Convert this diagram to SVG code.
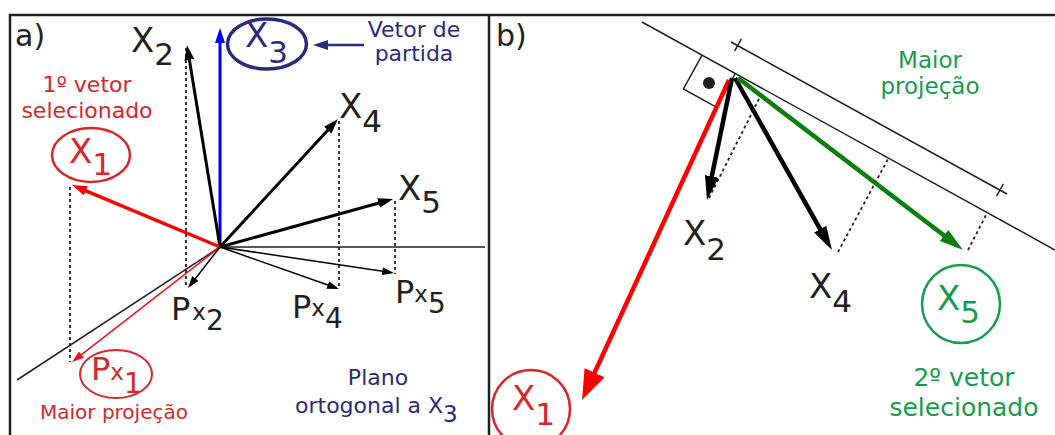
<svg xmlns="http://www.w3.org/2000/svg" width="1055" height="435" viewBox="0 0 1055 435">
<style>
text{font-family:"DejaVu Sans","Liberation Sans",sans-serif}
.frame{stroke:#231f20;stroke-width:2.5;fill:none}
.ax{stroke:#231f20;stroke-width:1.5;fill:none}
.dot{stroke:#231f20;stroke-width:1.8;stroke-dasharray:3 3;fill:none}
.vk{stroke:#000;stroke-width:3;fill:none}
.vkb{stroke:#000;stroke-width:4.5;fill:none}
.thin{stroke:#000;stroke-width:1.5;fill:none}
.big{font-size:34px;fill:#231f20}
.sub{font-size:31px}
.pP{font-size:32px;fill:#231f20}
.px{font-size:23px}
.pd{font-size:28px}
.red{fill:#d4282a}
.navy{fill:#2b2a7c}
.green{fill:#169c4c}
</style>
<defs>
<marker id="mK" markerUnits="userSpaceOnUse" markerWidth="15" markerHeight="10" refX="5" refY="5" orient="auto"><path d="M0,0 L15,5 L0,10 z" fill="#000"/></marker>
<marker id="mB" markerUnits="userSpaceOnUse" markerWidth="15" markerHeight="10" refX="5" refY="5" orient="auto"><path d="M0,0 L15,5 L0,10 z" fill="#0000ff"/></marker>
<marker id="mR" markerUnits="userSpaceOnUse" markerWidth="15" markerHeight="10" refX="5" refY="5" orient="auto"><path d="M0,0 L15,5 L0,10 z" fill="#ff0000"/></marker>
<marker id="mN" markerUnits="userSpaceOnUse" markerWidth="15" markerHeight="10" refX="5" refY="5" orient="auto"><path d="M0,0 L15,5 L0,10 z" fill="#2b2a7c"/></marker>
<marker id="mKt" markerUnits="userSpaceOnUse" markerWidth="12" markerHeight="8" refX="4" refY="4" orient="auto"><path d="M0,0 L12,4 L0,8 z" fill="#000"/></marker>
<marker id="mRt" markerUnits="userSpaceOnUse" markerWidth="12" markerHeight="8" refX="4" refY="4" orient="auto"><path d="M0,0 L12,4 L0,8 z" fill="#e8141b"/></marker>
<marker id="mKb" markerUnits="userSpaceOnUse" markerWidth="24" markerHeight="14" refX="8" refY="7" orient="auto"><path d="M0,0 L24,7 L0,14 z" fill="#000"/></marker>
<marker id="mGb" markerUnits="userSpaceOnUse" markerWidth="24" markerHeight="14" refX="8" refY="7" orient="auto"><path d="M0,0 L24,7 L0,14 z" fill="#0b7f0b"/></marker>
<marker id="mRb" markerUnits="userSpaceOnUse" markerWidth="30" markerHeight="22" refX="10" refY="11" orient="auto"><path d="M0,0 L30,11 L0,22 z" fill="#ff0000"/></marker>
</defs>
<rect width="1055" height="435" fill="#fff"/>
<g id="frame">
<path class="frame" d="M10,435 V15 H1055 M489,15 V435"/>
<text x="15" y="46" style="font-size:30px;fill:#231f20">a)</text>
<text x="496" y="46" style="font-size:30px;fill:#231f20">b)</text>
</g>
<g id="panel-a-axes">
<line class="ax" x1="220" y1="247" x2="485" y2="247"/>
<line class="ax" x1="220" y1="247" x2="17" y2="380"/>
</g>
<g id="connectors">
<line class="dot" x1="70" y1="187" x2="70" y2="362"/>
<line class="dot" x1="186" y1="48" x2="186" y2="288"/>
<line class="dot" x1="339" y1="121" x2="339" y2="289"/>
<line class="dot" x1="395" y1="201" x2="395" y2="274"/>
<line x1="220" y1="247" x2="220" y2="38" stroke="#0000ff" stroke-width="3" marker-end="url(#mB)"/>
<line class="vk" x1="220" y1="247" x2="188.6" y2="54.9" marker-end="url(#mK)"/>
<line x1="220" y1="247" x2="81.2" y2="188.9" stroke="#ff0000" stroke-width="3.5" marker-end="url(#mR)"/>
<line class="vk" x1="220" y1="247" x2="331.2" y2="126.4" marker-end="url(#mK)"/>
<line class="vk" x1="220" y1="247" x2="383.4" y2="201.7" marker-end="url(#mK)"/>
<line x1="220" y1="247" x2="78.3" y2="357.1" stroke="#e8141b" stroke-width="1.5" marker-end="url(#mRt)"/>
<line class="thin" x1="220" y1="247" x2="192.9" y2="281.7" marker-end="url(#mKt)"/>
<line class="thin" x1="220" y1="247" x2="331.5" y2="286.3" marker-end="url(#mKt)"/>
<line class="thin" x1="220" y1="247" x2="386.1" y2="271.8" marker-end="url(#mKt)"/>
<line x1="364" y1="45" x2="323" y2="45" stroke="#2b2a7c" stroke-width="2.5" marker-end="url(#mN)"/>
<line class="ax" x1="642" y1="22" x2="1055" y2="250"/>
<line class="ax" x1="731" y1="42" x2="1007" y2="194"/>
<line class="ax" x1="741.4" y1="38.9" x2="734.6" y2="51.1"/>
<line class="ax" x1="1003.4" y1="183.9" x2="996.6" y2="196.1"/>
<polyline class="ax" points="701.8,55.6 683.4,88.9 716.6,107.3 735,74"/>
<circle cx="709" cy="83" r="6" fill="#231f20"/>
<line class="dot" x1="709" y1="198" x2="763" y2="91"/>
<line class="dot" x1="838" y1="252" x2="888" y2="159"/>
<line class="dot" x1="968" y1="250" x2="987" y2="213"/>
<line x1="729" y1="80" x2="590.4" y2="381.8" stroke="#ff0000" stroke-width="4.5" marker-end="url(#mRb)"/>
<line class="vkb" x1="732" y1="78" x2="710.2" y2="184.3" marker-end="url(#mKb)"/>
<line class="vkb" x1="735" y1="78" x2="824.1" y2="236.1" marker-end="url(#mKb)"/>
<line x1="738" y1="78" x2="950.3" y2="240.3" stroke="#0b7f0b" stroke-width="4.5" marker-end="url(#mGb)"/>
</g>
<g id="a-x1">
<ellipse cx="91" cy="155" rx="39" ry="27" fill="none" stroke="#d4282a" stroke-width="2.5"/>
<text class="big red" x="69" y="163">X<tspan class="sub" dy="12">1</tspan></text>
<text class="red" x="87" y="92" text-anchor="middle" style="font-size:22px">1º vetor</text>
<text class="red" x="87" y="118" text-anchor="middle" style="font-size:22px">selecionado</text>
</g>
<g id="a-x2"><text class="big" x="131" y="52">X<tspan class="sub" dy="13">2</tspan></text></g>
<g id="a-x3">
<ellipse cx="267" cy="44" rx="39.5" ry="25" fill="none" stroke="#2b2a7c" stroke-width="3.5"/>
<text class="big navy" x="245" y="47">X<tspan class="sub" dy="16">3</tspan></text>
<text class="navy" x="414" y="37" text-anchor="middle" style="font-size:22px">Vetor de</text>
<text class="navy" x="414" y="61" text-anchor="middle" style="font-size:22px">partida</text>
</g>
<g id="a-x4"><text class="big" x="339" y="118">X<tspan class="sub" dy="14">4</tspan></text></g>
<g id="a-x5"><text class="big" x="398" y="200">X<tspan class="sub" dy="13">5</tspan></text></g>
<g id="a-px1">
<ellipse cx="116" cy="374" rx="36" ry="24" fill="none" stroke="#d4282a" stroke-width="2"/>
<text class="pP red" x="91" y="380">P<tspan class="px">x</tspan><tspan class="pd" dy="13">1</tspan></text>
<text class="red" x="40" y="419" style="font-size:20px">Maior projeção</text>
</g>
<g id="a-px2"><text class="pP" x="171" y="320">P<tspan class="px" dx="2">x</tspan><tspan class="pd" dy="10">2</tspan></text></g>
<g id="a-px4"><text class="pP" x="292" y="318">P<tspan class="px" dy="-2">x</tspan><tspan class="pd" dy="12">4</tspan></text></g>
<g id="a-px5"><text class="pP" x="395" y="303">P<tspan class="px" dy="-1">x</tspan><tspan class="pd" dy="11">5</tspan></text></g>
<g id="a-plane">
<text class="navy" x="378" y="385" text-anchor="middle" style="font-size:22px">Plano</text>
<text class="navy" x="295" y="413" style="font-size:22px">ortogonal a X<tspan dy="9" style="font-size:23px">3</tspan></text>
</g>
<g id="b-x1">
<circle cx="531" cy="409" r="39" fill="none" stroke="#d4282a" stroke-width="2.5"/>
<text class="big red" x="512" y="410">X<tspan class="sub" dy="15">1</tspan></text>
</g>
<g id="b-x2"><text class="big" x="683" y="245">X<tspan class="sub" dy="15">2</tspan></text></g>
<g id="b-x4"><text class="big" x="809" y="298">X<tspan class="sub" dy="14">4</tspan></text></g>
<g id="b-x5">
<circle cx="961" cy="304" r="39" fill="none" stroke="#169c4c" stroke-width="2.5"/>
<text class="big green" x="937" y="310">X<tspan class="sub" dy="13">5</tspan></text>
<text class="green" x="964" y="386" text-anchor="middle" style="font-size:25px">2º vetor</text>
<text class="green" x="964" y="416" text-anchor="middle" style="font-size:25px">selecionado</text>
</g>
<g id="b-note">
<text class="green" x="930" y="68" text-anchor="middle" style="font-size:23px">Maior</text>
<text class="green" x="930" y="94" text-anchor="middle" style="font-size:23px">projeção</text>
</g>
</svg>
